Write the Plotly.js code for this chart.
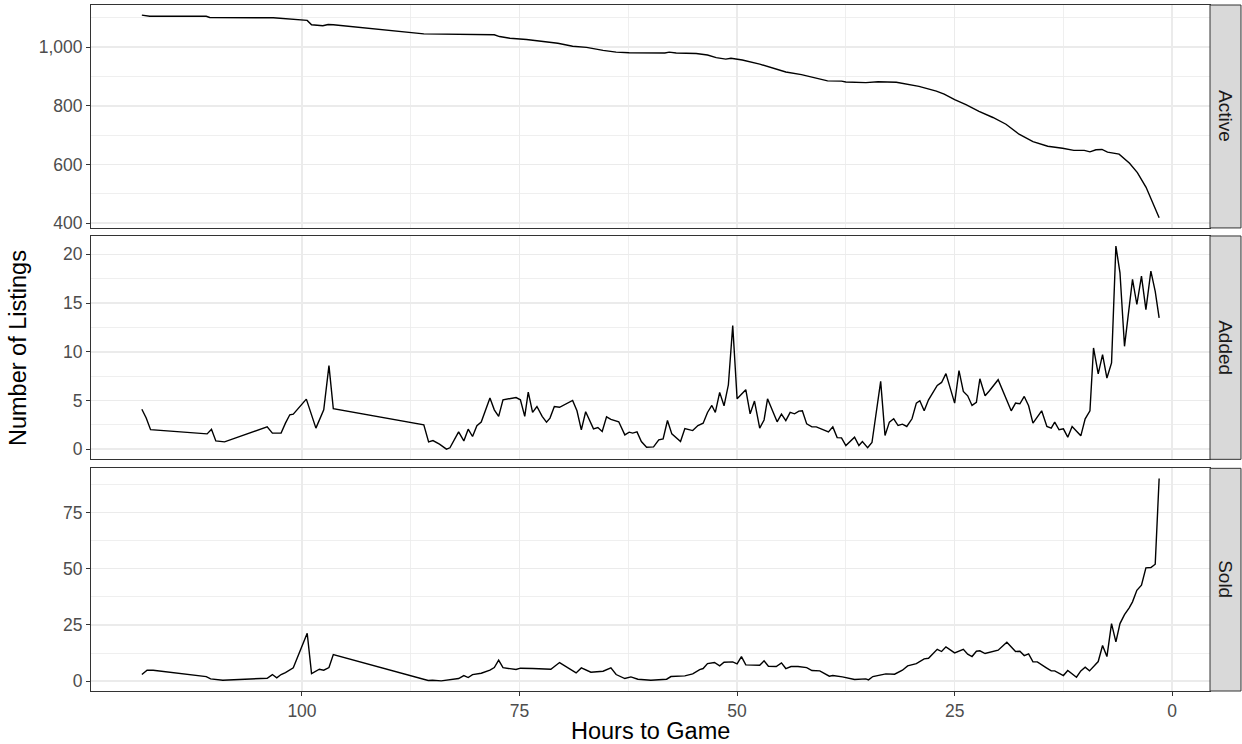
<!DOCTYPE html>
<html>
<head>
<meta charset="utf-8">
<script src="https://cdn.plot.ly/plotly-3.0.1.min.js"></script>
<style>html,body{margin:0;padding:0;background:#fff;}#chart{width:1242px;height:744px;}</style>
</head>
<body>
<div id="chart"></div>
<script>
// ---- Data ----
const panelNames = ["Active", "Added", "Sold"];

const activeHours = [118.4,117.5,111.0,110.6,103.3,99.9,99.4,98.9,97.6,97.0,96.4,86.0,81.9,81.2,77.9,77.3,76.1,74.2,71.6,70.6,68.9,67.3,65.4,63.9,62.4,58.3,57.8,57.0,54.7,53.4,52.4,51.3,50.7,49.4,47.4,45.5,44.4,42.6,41.3,39.6,38.0,37.5,35.2,33.8,31.7,30.2,29.1,27.1,26.2,25.0,23.7,22.2,20.6,19.1,17.6,16.0,14.3,12.6,11.3,10.1,9.45,8.76,8.07,7.43,6.1,4.9,4.0,3.0,2.26,1.5];
const activeValues = [1109,1105,1105,1101,1100,1094,1091,1076,1073,1077,1076,1045,1043,1042,1042,1036,1030,1026,1016,1013,1003,999,989,983,981,980,983,980,978,973,964,959,962,956,942,924,915,906,896,885,884,881,879,882,880,872,866,850,840,821,804,781,760,737,703,678,662,655,648,648,643,650,651,642,635,604,572,522,472,418];

const addedHours = [118.4,117.9,117.4,110.9,110.4,109.9,108.9,104.0,103.4,102.4,
  101.9,101.4,101.0,99.5,98.4,97.5,96.9,96.4,86.0,85.45,
  84.95,84.2,83.4,83.0,82.0,81.4,80.9,80.4,79.9,79.4,
  78.4,77.9,77.4,76.9,75.4,74.9,74.4,74.0,73.5,73.0,
  72.4,71.9,71.5,71.0,70.4,68.9,68.4,67.9,67.4,67.0,
  66.5,66.0,65.5,65.0,64.5,63.6,62.9,62.4,62.0,61.5,
  61.0,60.4,59.6,59.0,58.5,58.0,57.5,56.5,56.0,55.1,
  54.5,53.9,53.4,52.9,52.5,52.0,51.5,51.0,50.5,50.0,
  49.0,48.5,48.0,47.4,46.9,46.5,46.0,45.4,44.9,44.4,
  43.9,43.4,42.9,42.5,42.0,41.4,40.9,40.3,39.5,39.0,
  38.5,38.0,37.5,36.5,36.0,35.6,35.0,34.5,33.5,33.0,
  32.5,32.0,31.5,31.0,30.5,29.9,29.4,29.0,28.5,28.0,
  27.5,27.0,26.5,26.0,25.0,24.5,24.0,23.5,23.0,22.5,
  22.1,21.5,21.0,20.0,18.5,18.0,17.5,17.0,16.5,16.0,
  15.0,14.4,13.9,13.5,13.0,12.5,12.0,11.5,10.5,10.0,
  9.45,9.04,8.5,8.0,7.5,6.97,6.47,6.0,5.48,4.56,
  4.06,3.53,3.02,2.45,1.95,1.5];
const addedValues = [4.1,3.2,2.0,1.57,2.05,0.85,0.75,2.3,1.65,1.65,
  2.67,3.53,3.6,5.14,2.16,4.04,8.57,4.15,2.5,0.75,
  0.88,0.51,0.0,0.14,1.78,0.85,2.05,1.3,2.4,2.78,
  5.25,4.04,3.36,5.07,5.3,5.07,3.36,5.86,3.77,4.38,
  3.36,2.78,3.19,4.38,4.3,5.0,3.94,1.99,3.84,3.0,
  2.09,2.22,1.81,3.32,3.05,2.81,1.47,1.75,1.65,1.78,
  0.78,0.2,0.24,0.96,1.06,2.94,1.57,0.78,2.12,1.91,
  2.43,2.67,3.77,4.49,3.77,5.83,4.45,6.61,12.68,5.17,
  6.1,3.63,4.94,2.16,3.0,5.17,4.04,2.81,3.6,2.94,
  3.77,3.63,3.91,3.94,2.6,2.29,2.29,2.05,1.78,2.29,
  1.19,1.16,0.37,1.23,0.37,0.78,0.16,0.68,6.96,1.4,
  2.78,3.12,2.43,2.57,2.33,3.12,4.73,4.97,3.94,5.07,
  5.76,6.54,6.85,7.75,4.73,8.06,5.93,5.48,4.49,4.8,
  7.23,5.48,6.0,7.13,3.94,4.73,4.66,5.41,4.45,2.67,
  3.94,2.33,2.16,2.78,1.99,2.09,1.23,2.33,1.37,3.12,
  3.94,10.39,7.72,9.7,7.3,8.85,20.84,18.1,10.56,17.42,
  14.85,17.76,14.33,18.27,16.2,13.48];

const soldHours = [118.4,117.8,117.1,111.0,110.5,109.1,104.0,103.4,102.9,102.4,101.9,101.4,101.0,99.4,98.9,98.0,97.5,96.9,96.4,
  85.5,85.0,84.0,83.4,82.0,81.4,80.9,80.4,79.4,78.4,77.9,77.4,76.9,75.4,74.9,73.5,71.4,70.4,68.5,67.9,66.8,65.4,64.5,63.9,
  62.9,62.2,61.4,59.9,58.1,57.6,56.0,55.1,54.3,53.9,53.4,52.6,52.0,51.5,50.5,50.0,49.5,49.0,47.4,46.9,46.4,45.5,44.9,44.4,
  43.8,43.0,42.0,41.4,40.5,39.4,39.0,37.9,36.5,35.2,34.9,34.4,32.9,31.9,31.0,30.4,29.4,28.5,28.0,27.0,26.5,26.0,25.0,24.0,
  23.5,23.0,22.5,22.1,21.5,20.0,19.0,18.0,17.5,17.0,16.5,16.0,15.5,14.5,13.9,13.5,12.5,12.0,11.0,10.5,10.0,9.5,8.5,8.0,
  7.5,6.97,6.47,6.0,5.48,4.94,4.56,4.06,3.53,3.02,2.45,1.95,1.5];
const soldValues = [2.96,4.9,4.9,2.07,1.04,0.44,1.33,2.96,1.48,2.96,3.85,5.19,5.93,21.3,3.41,5.33,4.89,6.07,11.85,
  0.3,0.44,0.15,0.44,1.19,2.52,1.63,2.96,3.56,4.89,6.07,9.33,6.0,5.19,5.78,5.63,5.33,8.3,3.7,5.93,4.0,4.44,5.93,2.96,
  1.19,1.93,0.89,0.44,0.89,2.07,2.37,3.26,5.19,5.63,7.85,8.3,6.81,8.44,8.59,7.7,10.96,7.26,7.11,9.04,6.67,6.52,8.15,5.63,
  6.52,6.52,6.07,4.74,4.59,2.22,2.52,1.93,0.74,1.04,0.59,2.07,3.26,3.1,4.89,6.81,7.85,9.93,10.2,14.2,13.2,15.26,12.6,14.2,
  12.0,10.96,13.33,13.5,12.3,13.78,17.33,13.2,13.33,11.4,12.15,8.6,8.6,6.07,4.59,4.59,2.52,4.74,1.78,4.59,6.22,4.59,8.74,15.85,
  10.96,25.6,17.48,25.6,29.6,32.6,35.26,40.4,42.67,50.36,50.5,52.0,90.1];

const xTicks = [0, 25, 50, 75, 100];
const xMinor = [12.5, 37.5, 62.5, 87.5];
const activeTicks = [400, 600, 800, 1000];
const activeMinor = [500, 700, 900, 1100];
const addedTicks = [0, 5, 10, 15, 20];
const addedMinor = [2.5, 7.5, 12.5, 17.5];
const soldTicks = [0, 25, 50, 75];
const soldMinor = [12.5, 37.5, 62.5, 87.5];

// ---- Styling ----
const FONT = "Liberation Sans, Arial, Helvetica, sans-serif";
const GRID = "#EBEBEB";
const BORDER = "#333333";
const TICKFONT = {family: FONT, size: 17.5, color: "#4D4D4D"};

function span(arr, pad) {
  const mn = Math.min(...arr), mx = Math.max(...arr), r = mx - mn;
  return [mn - r * pad, mx + r * pad];
}
const allHours = activeHours.concat(addedHours, soldHours);
const xr = span(allHours, 0.05);
const xRange = [xr[1], xr[0]]; // reversed

const domains = [[0.675, 1], [0.3377, 0.6633], [0, 0.3246]];

function xAxis(anchor, showLabels) {
  return {
    domain: [0, 1], anchor: anchor, range: xRange, autorange: false,
    tickmode: "array", tickvals: xTicks, ticktext: xTicks.map(String),
    showticklabels: showLabels, ticks: showLabels ? "outside" : "",
    ticklen: 4, tickwidth: 1, tickcolor: BORDER, tickfont: TICKFONT,
    showgrid: true, gridcolor: GRID, gridwidth: 1.6,
    minor: {tickmode: "array", tickvals: xMinor, showgrid: true, gridcolor: GRID, gridwidth: 0.8, ticks: ""},
    showline: true, mirror: true, linecolor: BORDER, linewidth: 1,
    zeroline: false, fixedrange: true
  };
}
function yAxis(anchor, dom, vals, ticks, minor, fmt) {
  return {
    domain: dom, anchor: anchor, range: span(vals, 0.05), autorange: false,
    tickmode: "array", tickvals: ticks, ticktext: ticks.map(v => fmt(v)),
    ticks: "outside", ticklen: 4, tickwidth: 1, tickcolor: BORDER, tickfont: TICKFONT,
    showgrid: true, gridcolor: GRID, gridwidth: 1.6,
    minor: {tickmode: "array", tickvals: minor, showgrid: true, gridcolor: GRID, gridwidth: 0.8, ticks: ""},
    showline: true, mirror: true, linecolor: BORDER, linewidth: 1,
    zeroline: false, fixedrange: true
  };
}
const fmtComma = v => v.toLocaleString("en-US");

const lineStyle = {color: "#000000", width: 1.4};
const traces = [
  {x: activeHours, y: activeValues, xaxis: "x", yaxis: "y", type: "scatter", mode: "lines", line: lineStyle, hoverinfo: "skip"},
  {x: addedHours, y: addedValues, xaxis: "x2", yaxis: "y2", type: "scatter", mode: "lines", line: lineStyle, hoverinfo: "skip"},
  {x: soldHours, y: soldValues, xaxis: "x3", yaxis: "y3", type: "scatter", mode: "lines", line: lineStyle, hoverinfo: "skip"}
];

const stripX0 = 1.0, stripX1 = 1.0277;
const shapes = domains.map(d => ({
  type: "rect", xref: "paper", yref: "paper", x0: stripX0, x1: stripX1, y0: d[0], y1: d[1],
  fillcolor: "#D9D9D9", line: {color: BORDER, width: 1}, layer: "above"
}));
const annotations = domains.map((d, i) => ({
  xref: "paper", yref: "paper", x: (stripX0 + stripX1) / 2, y: (d[0] + d[1]) / 2,
  text: panelNames[i], showarrow: false, textangle: 90,
  font: {family: FONT, size: 19, color: "#1A1A1A"}, xanchor: "center", yanchor: "middle"
}));
annotations.push({
  xref: "paper", yref: "paper", x: -0.0652, y: 0.5, text: "Number of Listings", showarrow: false,
  textangle: -90, font: {family: FONT, size: 23.5, color: "#000000"}, xanchor: "center", yanchor: "middle"
});
annotations.push({
  xref: "paper", yref: "paper", x: 0.5, y: -0.0583, text: "Hours to Game", showarrow: false,
  font: {family: FONT, size: 23.5, color: "#000000"}, xanchor: "center", yanchor: "middle"
});

const layout = {
  width: 1242, height: 744,
  margin: {l: 91, r: 32, t: 5, b: 53, pad: 0},
  paper_bgcolor: "#FFFFFF", plot_bgcolor: "#FFFFFF",
  showlegend: false,
  font: {family: FONT},
  xaxis: xAxis("y", false),
  xaxis2: xAxis("y2", false),
  xaxis3: xAxis("y3", true),
  yaxis: yAxis("x", domains[0], activeValues, activeTicks, activeMinor, fmtComma),
  yaxis2: yAxis("x2", domains[1], addedValues, addedTicks, addedMinor, String),
  yaxis3: yAxis("x3", domains[2], soldValues, soldTicks, soldMinor, String),
  shapes: shapes,
  annotations: annotations
};

Plotly.newPlot("chart", traces, layout, {staticPlot: true, displayModeBar: false});
</script>
</body>
</html>
